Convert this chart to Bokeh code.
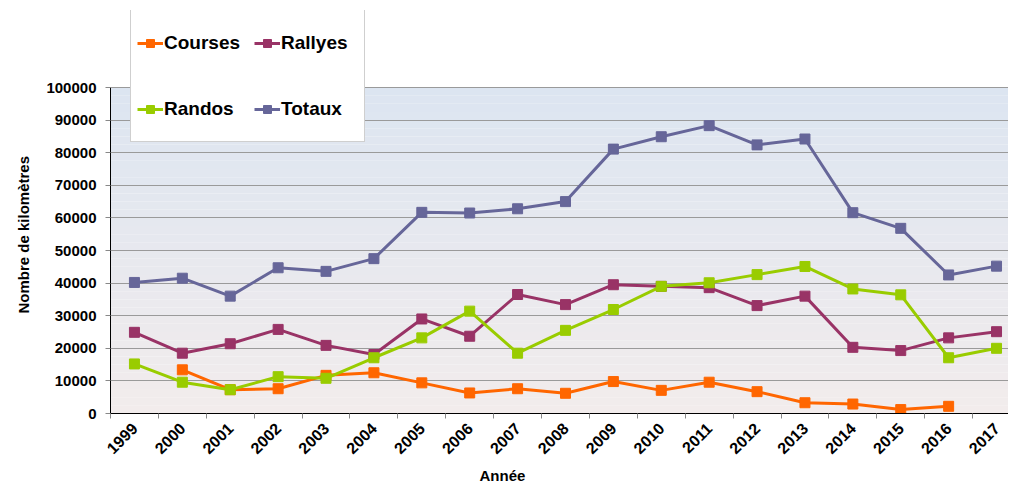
import math
from bokeh.plotting import figure
from bokeh.models import (Range1d, FixedTicker, NumeralTickFormatter, Legend, LegendItem,
                          BoxAnnotation, Title)
from bokeh.embed import file_html
from bokeh.resources import INLINE

nan = float("nan")

years = ["1999", "2000", "2001", "2002", "2003", "2004", "2005", "2006", "2007", "2008",
         "2009", "2010", "2011", "2012", "2013", "2014", "2015", "2016", "2017"]
courses = [nan, 13400, 7300, 7600, 11700, 12500, 9400, 6300, 7600, 6200,
           9800, 7100, 9600, 6700, 3300, 2900, 1200, 2200, nan]
rallyes = [24900, 18500, 21400, 25800, 20900, 18100, 29000, 23700, 36500, 33400,
           39500, 39000, 38600, 33100, 36000, 20300, 19300, 23200, 25100]
randos = [15200, 9600, 7300, 11300, 10800, 17100, 23200, 31400, 18500, 25500,
          31900, 39000, 40100, 42600, 45100, 38200, 36400, 17100, 20000]
totaux = [40200, 41500, 36000, 44700, 43600, 47500, 61700, 61500, 62800, 65000,
          81100, 84900, 88300, 82400, 84200, 61600, 56800, 42500, 45200]
y_ticks = [0, 10000, 20000, 30000, 40000, 50000, 60000, 70000, 80000, 90000, 100000]

series_names = ["Courses", "Rallyes", "Randos", "Totaux"]
series_colors = ["#FF6600", "#993366", "#99CC00", "#666699"]
series_values = [courses, rallyes, randos, totaux]

FONT = "Liberation Sans"
xs = list(range(len(years)))
Y_TOP = 100000  # top of the shaded plot area
Y_MAX = 123620  # room above the shaded area for the legend box

p = figure(width=1008, height=485, output_backend="svg", toolbar_location=None,
           x_range=Range1d(-0.5, 18.25), y_range=Range1d(0, Y_MAX),
           min_border_left=110, min_border_right=0, min_border_top=10, min_border_bottom=72)
p.outline_line_color = None
p.background_fill_color = "white"
p.border_fill_color = "white"

# vertical gradient background (light blue at top -> light pink at bottom)
top_c = (220, 229, 241)
bot_c = (242, 236, 236)
nb = 40
for i in range(nb):
    t = (i + 0.5) / nb
    c = tuple(int(round(bot_c[k] + (top_c[k] - bot_c[k]) * t)) for k in range(3))
    p.add_layout(BoxAnnotation(bottom=Y_TOP * i / nb, top=Y_TOP * (i + 1) / nb,
                               fill_color="#%02x%02x%02x" % c, fill_alpha=1,
                               line_color=None, level="image"))

# grid
p.xgrid.grid_line_color = None
p.ygrid.grid_line_color = "#9A9A9A"
p.ygrid.grid_line_width = 1

# axes
p.yaxis.ticker = FixedTicker(ticks=y_ticks)
p.yaxis.bounds = (0, Y_TOP)
p.yaxis.formatter = NumeralTickFormatter(format="0")
p.yaxis.major_tick_out = 5
p.yaxis.major_tick_in = 0
p.yaxis.minor_tick_line_color = None
p.yaxis.major_label_standoff = 9
p.yaxis.axis_line_color = "black"
p.yaxis.major_tick_line_color = "#888888"
p.yaxis.major_label_text_font = FONT
p.yaxis.major_label_text_font_style = "bold"
p.yaxis.major_label_text_font_size = "15px"
p.yaxis.major_label_text_color = "black"

p.xaxis.ticker = FixedTicker(ticks=xs, minor_ticks=[i - 0.5 for i in range(len(years) + 1)])
p.xaxis.major_label_overrides = {i: y for i, y in enumerate(years)}
p.xaxis.major_tick_line_color = None
p.xaxis.major_tick_out = 0
p.xaxis.major_tick_in = 0
p.xaxis.minor_tick_line_color = "#888888"
p.xaxis.minor_tick_out = 5
p.xaxis.minor_tick_in = 0
p.xaxis.axis_line_color = "black"
p.xaxis.major_label_orientation = math.pi / 4
p.xaxis.major_label_standoff = 7
p.xaxis.major_label_text_font = FONT
p.xaxis.major_label_text_font_style = "bold"
p.xaxis.major_label_text_font_size = "16px"
p.xaxis.major_label_text_color = "black"

# series
renderers = {}
for name, col, vals in zip(series_names, series_colors, series_values):
    ln = p.line(xs, vals, line_color=col, line_width=3)
    sc = p.scatter(xs, vals, marker="square", size=10, fill_color=col, line_color=col)
    renderers[name] = [ln, sc]

# legend fills column by column: (Courses, Randos) | (Rallyes, Totaux)
legend_order = ["Courses", "Randos", "Rallyes", "Totaux"]
items = [LegendItem(label=n, renderers=renderers[n]) for n in legend_order]
legend = Legend(items=items, ncols=2, location=(20, 271),
                label_text_font=FONT, label_text_font_style="bold",
                label_text_font_size="19px", label_text_color="black",
                glyph_width=26, glyph_height=20, label_height=53, label_width=77,
                label_standoff=1, spacing=13, padding=6, margin=0,
                border_line_color="#A0A0A0", border_line_width=1,
                background_fill_color="white", background_fill_alpha=1)
p.add_layout(legend, "center")

# axis titles
p.add_layout(Title(text="Nombre de kilomètres", align="left", offset=100,
                   text_font=FONT, text_font_style="bold", text_font_size="15px",
                   text_color="black", standoff=24), "left")
p.add_layout(Title(text="Année", align="left", offset=369,
                   text_font=FONT, text_font_style="bold", text_font_size="15px",
                   text_color="black", standoff=4), "below")

open("out.html", "w").write(file_html(p, INLINE))
